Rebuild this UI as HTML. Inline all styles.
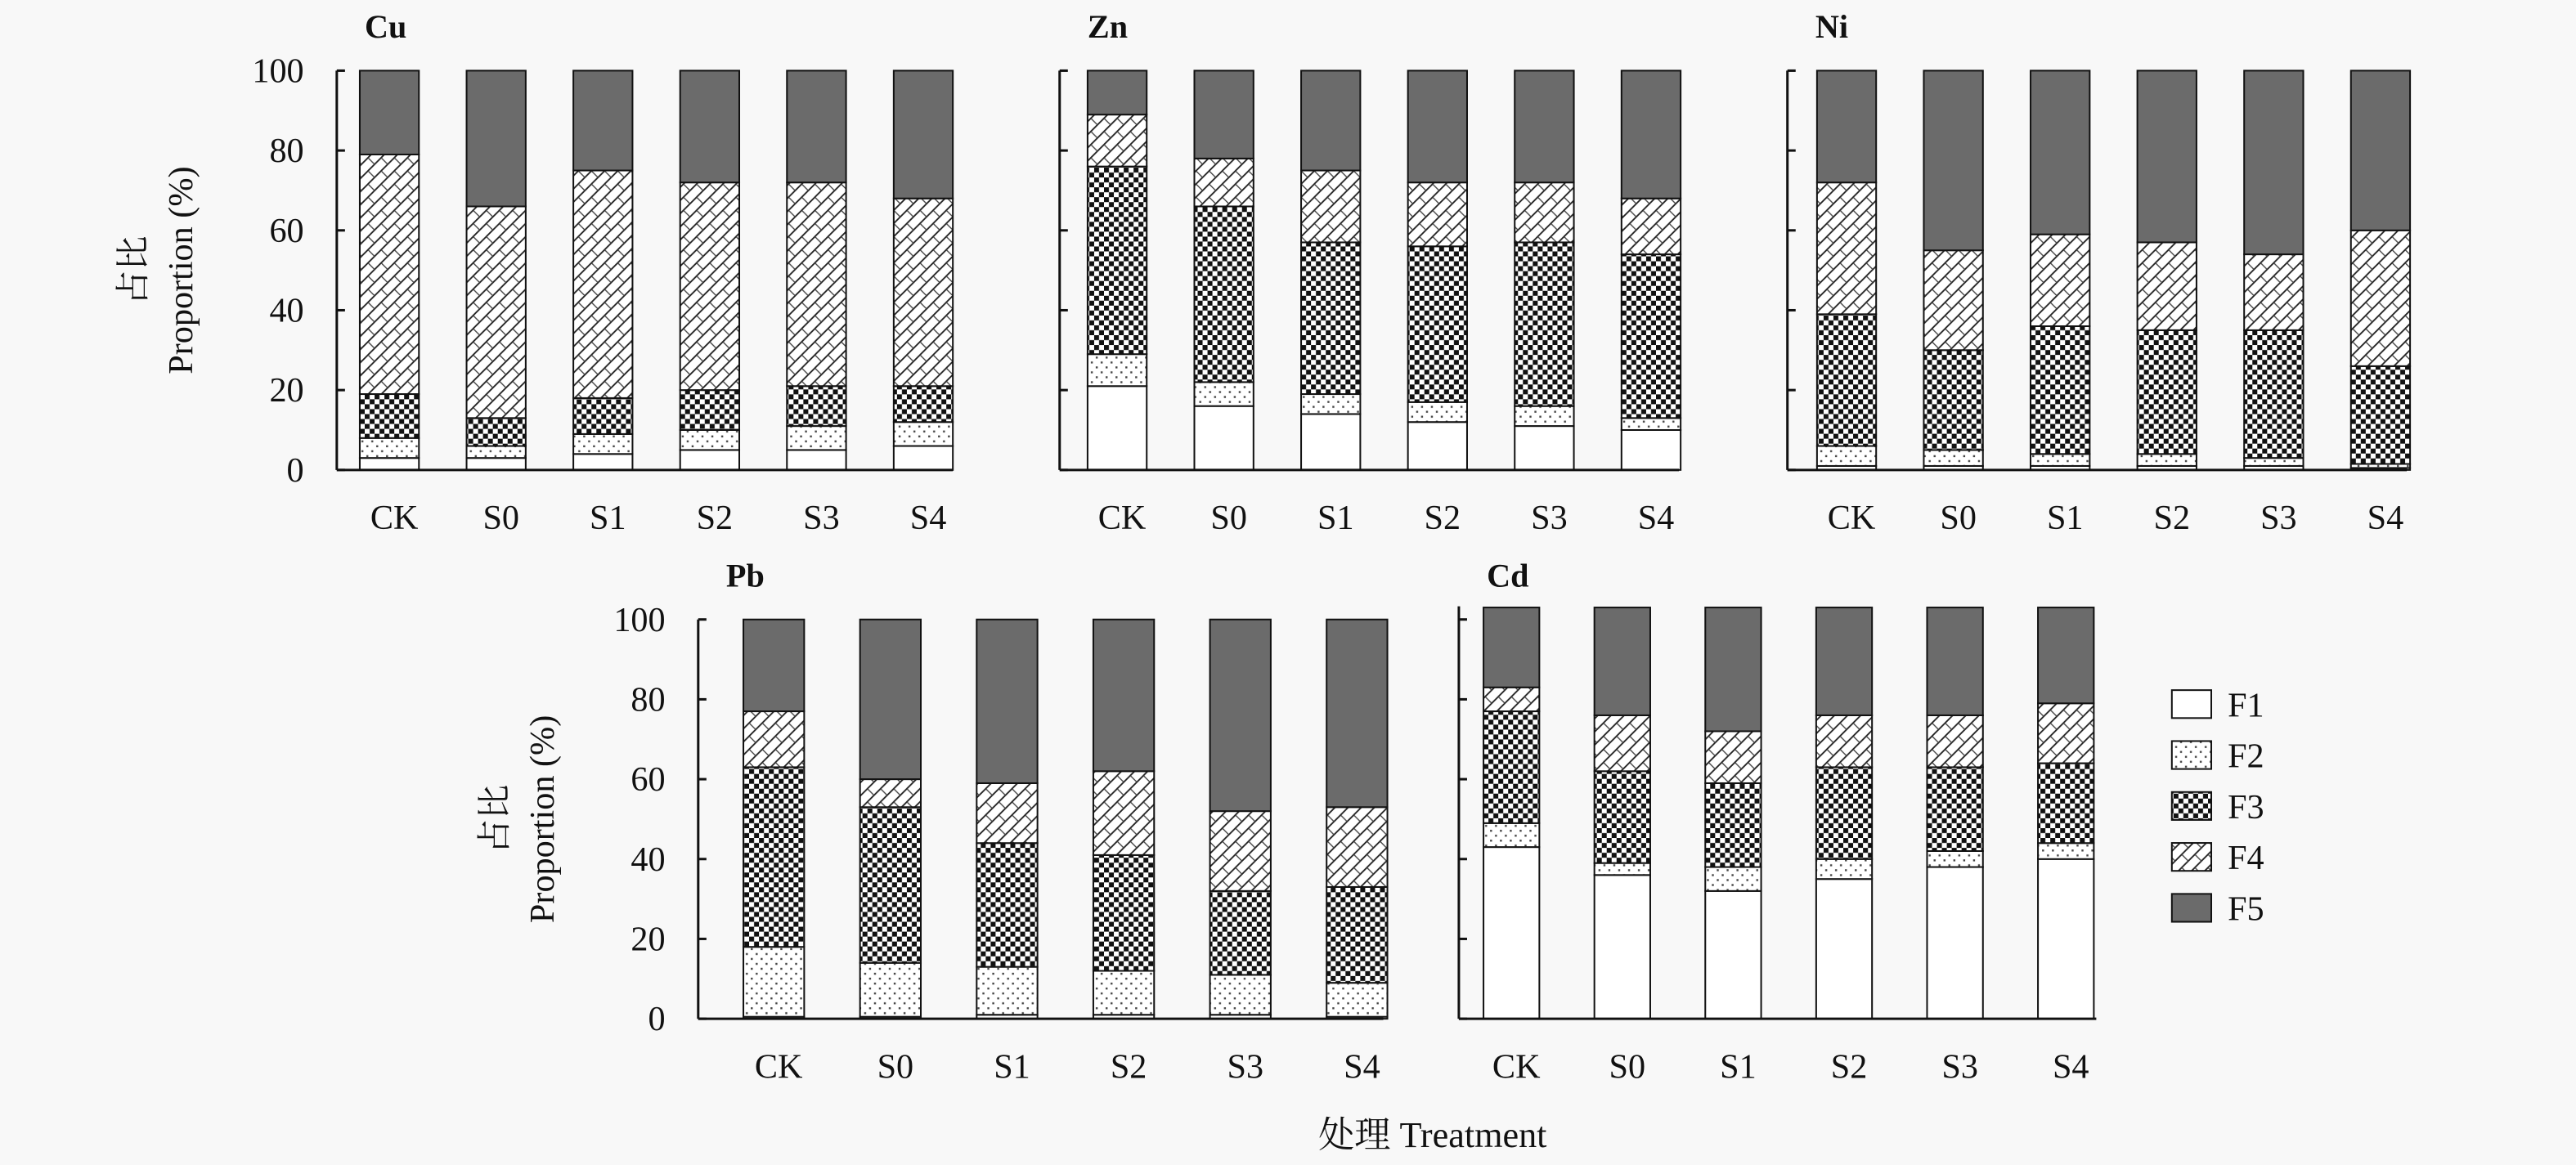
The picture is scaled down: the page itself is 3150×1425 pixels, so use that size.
<!DOCTYPE html>
<html><head><meta charset="utf-8"><style>
html,body{margin:0;padding:0;background:#f8f8f8;}
svg{display:block;font-family:"Liberation Serif","Noto Serif CJK SC",serif;}
</style></head><body>
<svg id="chart" width="3150" height="1425" viewBox="0 0 1568 709" preserveAspectRatio="none" xmlns="http://www.w3.org/2000/svg">
<defs>
<pattern id="pF2" width="6" height="6" patternUnits="userSpaceOnUse"><rect width="6" height="6" fill="#fff"/><rect x="1" y="1" width="1.2" height="1.2" fill="#444"/><rect x="4" y="4" width="1.2" height="1.2" fill="#444"/></pattern>
<pattern id="pF3" width="6" height="6" patternUnits="userSpaceOnUse"><rect width="6" height="6" fill="#fff"/><rect width="3" height="3" fill="#111"/><rect x="3" y="3" width="3" height="3" fill="#111"/></pattern>
<pattern id="pF4" width="8" height="8" patternUnits="userSpaceOnUse"><rect width="8" height="8" fill="#fff"/><path d="M0 8 L8 0 M-2 2 L2 -2 M6 10 L10 6" stroke="#222" stroke-width="0.9"/><path d="M0 0 L4 4" stroke="#444" stroke-width="0.7"/></pattern>
</defs>
<g id="root"></g>
</svg>
<script>
const categories = ["CK","S0","S1","S2","S3","S4"];
const fractions = ["F1","F2","F3","F4","F5"];
const tickLabels = ["0","20","40","60","80","100"];
const cuF1=[3,3,4,5,5,6], cuF2=[5,3,5,5,6,6], cuF3=[11,7,9,10,10,9], cuF4=[60,53,57,52,51,47], cuF5=[21,34,25,28,28,32];
const znF1=[21,16,14,12,11,10], znF2=[8,6,5,5,5,3], znF3=[47,44,38,39,41,41], znF4=[13,12,18,16,15,14], znF5=[11,22,25,28,28,32];
const niF1=[1,1,1,1,1,0.5], niF2=[5,4,3,3,2,1], niF3=[33,25,32,31,32,24.5], niF4=[33,25,23,22,19,34], niF5=[28,45,41,43,46,40];
const pbF1=[0.5,0.5,1,1,1,0.5], pbF2=[17.5,13.5,12,11,10,8.5], pbF3=[45,39,31,29,21,24], pbF4=[14,7,15,21,20,20], pbF5=[23,40,41,38,48,47];
const cdF1=[43,36,32,35,38,40], cdF2=[6,3,6,5,4,4], cdF3=[28,23,21,23,21,20], cdF4=[6,14,13,13,13,15], cdF5=[20,27,31,27,27,24];

const NS="http://www.w3.org/2000/svg";
const root=document.getElementById('root');
function mk(tag,attrs,parent){const e=document.createElementNS(NS,tag);for(const k in attrs)e.setAttribute(k,attrs[k]);(parent||root).appendChild(e);return e;}
const fills=["#ffffff","url(#pF2)","url(#pF3)","url(#pF4)","#6b6b6b"];

const panels=[
 {name:"Cu",series:[cuF1,cuF2,cuF3,cuF4,cuF5],ax:205,x0:237,dx:65,bw:36,top:43,bot:286,end:580,labels:true,axTop:43},
 {name:"Zn",series:[znF1,znF2,znF3,znF4,znF5],ax:645,x0:680,dx:65,bw:36,top:43,bot:286,end:1022,labels:false,axTop:43},
 {name:"Ni",series:[niF1,niF2,niF3,niF4,niF5],ax:1088,x0:1124,dx:65,bw:36,top:43,bot:286,end:1465,labels:false,axTop:43},
 {name:"Pb",series:[pbF1,pbF2,pbF3,pbF4,pbF5],ax:425,x0:471,dx:71,bw:37,top:377,bot:620,end:842,labels:true,axTop:377},
 {name:"Cd",series:[cdF1,cdF2,cdF3,cdF4,cdF5],ax:888,x0:920,dx:67.5,bw:34,top:377,bot:620,end:1276,labels:false,axTop:369}
];

panels.forEach(p=>{
  const g=mk('g',{});
  
  
  const y=v=>p.bot-(v/100)*(p.bot-p.top);
  const t=mk('text',{x:p.ax+17,y:p.top-20,'font-size':20,'font-weight':'bold',fill:'#111'},g);
  t.textContent=p.name;
  
  
  categories.forEach((c,i)=>{
    const cx=p.x0+i*p.dx;
    let cum=0;
    p.series.forEach((s,k)=>{
      const v=s[i];
      const r=mk('rect',{x:cx-p.bw/2,y:y(cum+v),width:p.bw,height:y(cum)-y(cum+v),fill:fills[k],stroke:'#111','stroke-width':1},g);
      
      
      cum+=v;
    });
    const lt=mk('text',{x:cx+3,y:p.bot+36,'font-size':21,'text-anchor':'middle',fill:'#111'},g);
    lt.textContent=c;
    
    
  });
  const ya=mk('line',{x1:p.ax,y1:p.axTop,x2:p.ax,y2:p.bot,stroke:'#111','stroke-width':1.5},g);
  
  
  const xa=mk('line',{x1:p.ax,y1:p.bot,x2:p.end,y2:p.bot,stroke:'#111','stroke-width':1.5},g);
  
  
  tickLabels.forEach((tl,j)=>{
    const v=j*20, ty=y(v);
    const tk=mk('line',{x1:p.ax,y1:ty,x2:p.ax+5,y2:ty,stroke:'#111','stroke-width':1.5},g);
    
    
    if(p.labels){
      const tt=mk('text',{x:p.ax-20,y:ty+7,'font-size':21,'text-anchor':'end',fill:'#111'},g);
      tt.textContent=tl;
      
      
    }
  });
  if(p.labels){
    const cyT=(p.top+p.bot)/2;
    const a=mk('text',{x:0,y:0,'font-size':21,'text-anchor':'middle',fill:'#111',transform:`translate(${p.ax-117},${cyT}) rotate(-90)`},g);
    a.textContent="占比";
    
    
    const b=mk('text',{x:0,y:0,'font-size':21,'text-anchor':'middle',fill:'#111',transform:`translate(${p.ax-88},${cyT}) rotate(-90)`},g);
    b.textContent="Proportion (%)";
    
    
  }
});

const xt=mk('text',{x:872,y:698,'font-size':22,'text-anchor':'middle',fill:'#111'});
xt.textContent="处理 Treatment";



const lg=mk('g',{});


fractions.forEach((f,k)=>{
  const ly=420+k*31;
  const r=mk('rect',{x:1322,y:ly,width:24,height:17,fill:fills[k],stroke:'#111','stroke-width':1},lg);
  
  
  const t=mk('text',{x:1356,y:ly+16,'font-size':21,fill:'#111'},lg);
  t.textContent=f;
  
  
});
</script>
</body></html>
